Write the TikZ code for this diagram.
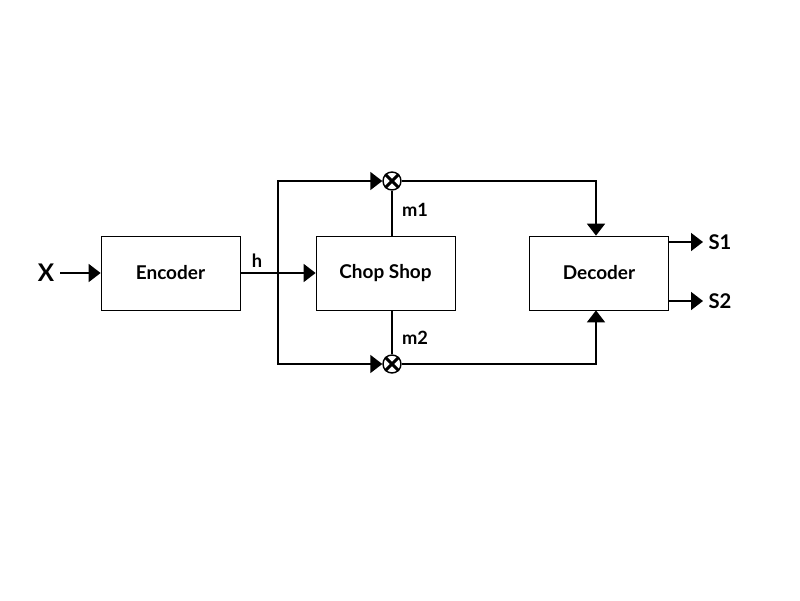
\documentclass[tikz,border=0pt]{standalone}
\usepackage{fontspec}
\setmainfont{Lato}
\usepackage{tikz}
\usetikzlibrary{positioning,calc,arrows.meta}
\tikzstyle{blk}= [rectangle, draw, line width=0.5pt, minimum width=3.475cm, minimum height=1.85cm, font=\bfseries\fontsize{13.5}{16}\selectfont]
\tikzstyle{mult}= [circle, draw, fill=white, line width=1pt, inner sep=0pt, minimum size=0.45cm]
\tikzstyle{sig}= [line width=1.2pt, -{Triangle[length=0.3cm,width=0.45cm]}]
\tikzstyle{wire}= [line width=1.2pt]
\tikzstyle{lbl}= [font=\bfseries\fontsize{13}{15}\selectfont]

\begin{document}
\begin{tikzpicture}[x=0.025cm, y=-0.025cm]
						\useasboundingbox (0,0) rectangle (800,600);
						\node[blk] (enc) at (170.5, 273) {Encoder};
						\node[blk] (chop) at (385.5, 273) {Chop Shop};
						\node[blk] (dec) at (599, 273) {Decoder};
						\node[mult] (m1) at (392, 181) {};
						\node[mult] (m2) at (392, 364) {};
						\draw[line width=2.2pt] (m1.45) -- (m1.225) (m1.135) -- (m1.315);
						\draw[line width=2.2pt] (m2.45) -- (m2.225) (m2.135) -- (m2.315);
						\node[lbl, font=\bfseries\LARGE] (x) at (46, 273) {X};
						\node[lbl] (h) at (257, 261) {h};
						\node[lbl] (lm1) at (415, 210) {m1};
						\node[lbl] (lm2) at (415, 338) {m2};
						\node[lbl, font=\bfseries\Large] (s1) at (720, 242) {S1};
						\node[lbl, font=\bfseries\Large] (s2) at (720, 301) {S2};
						\coordinate (j) at (278, 273);
						\coordinate (xin) at (60, 273);
						\coordinate (s1out) at (703, 242);
						\coordinate (s2out) at (703, 301);
						\draw[sig] (xin) -- (enc);
						\draw[sig] (enc) -- (chop);
						\draw[sig] (j) |- (m1.west);
						\draw[sig] (j) |- (m2.west);
						\draw[wire] (chop.north -| m1) -- (m1);
						\draw[wire] (chop.south -| m2) -- (m2);
						\draw[sig] (m1.east) -| ($(dec.north)+(-3,0)$);
						\draw[sig] (m2.east) -| ($(dec.south)+(-3,0)$);
						\draw[sig] (dec.east |- s1out) -- (s1out);
						\draw[sig] (dec.east |- s2out) -- (s2out);
					\end{tikzpicture}
\end{document}
